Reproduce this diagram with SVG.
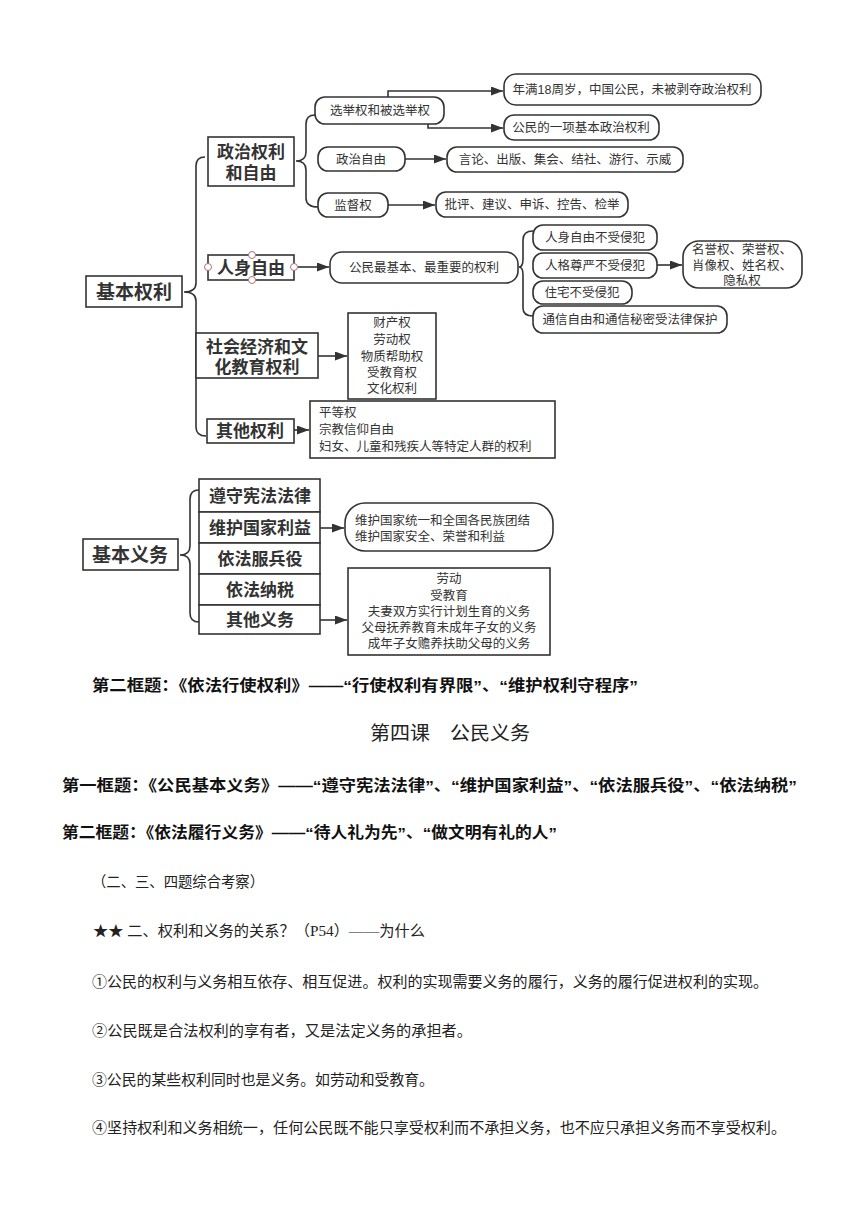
<svg xmlns="http://www.w3.org/2000/svg" width="860" height="1216" viewBox="0 0 860 1216">
<defs>
<style>
.box{fill:#fff;stroke:#333;stroke-width:1.6}
.t{font-family:"Liberation Sans","Noto Sans CJK SC",sans-serif;fill:#333;text-anchor:middle;dominant-baseline:central}
.l{text-anchor:start}
.big{font-size:17px;font-weight:bold}
.huge{font-size:19px;font-weight:bold}
.sm{font-size:12.5px}
.conn{fill:none;stroke:#333;stroke-width:1.6}
.h{fill:#fff;stroke:#b07070;stroke-width:1}
.hd{font-family:"Liberation Sans","Noto Sans CJK SC",sans-serif;font-size:15.5px;font-weight:bold;fill:#111;dominant-baseline:central}
.bd{font-family:"Liberation Serif","Noto Sans CJK SC",serif;font-size:15px;fill:#222;dominant-baseline:central}
</style>
<marker id="ar" markerWidth="12" markerHeight="9" refX="12" refY="4.5" orient="auto" markerUnits="userSpaceOnUse">
<path d="M0,0 L12,4.5 L0,9 z" fill="#333"/>
</marker>
</defs>
<rect width="860" height="1216" fill="#fff"/>

<g id="connectors">
<path class="conn" d="M205 157 Q196 157 196 166 L196 283 Q196 292 184 292 Q196 292 196 301 L196 427 Q196 436 206 436"/>
<path class="conn" d="M315 115 Q306 115 306 124 L306 152 Q306 161 296 161 Q306 161 306 170 L306 198 Q306 207 318 207"/>
<path class="conn" d="M533 231 Q523 231 523 240 L523 259 Q523 267 519 267 Q523 267 523 275 L523 308 Q523 316 533 316"/>
<path class="conn" d="M199 490 Q190 490 190 499 L190 546 Q190 555 180 555 Q190 555 190 564 L190 613 Q190 622 199 622"/>
<path class="conn" marker-end="url(#ar)" d="M388 97 L388 91 L503 91"/>
<path class="conn" marker-end="url(#ar)" d="M428 124 L428 128 L503 128"/>
<path class="conn" marker-end="url(#ar)" d="M405 159 L446 159"/>
<path class="conn" marker-end="url(#ar)" d="M388 205 L435 205"/>
<path class="conn" marker-end="url(#ar)" d="M298 267 L329 267"/>
<path class="conn" marker-end="url(#ar)" d="M657 265 L682 265"/>
<path class="conn" marker-end="url(#ar)" d="M318 356 L347 356"/>
<path class="conn" marker-end="url(#ar)" d="M294 430 L309 430"/>
<path class="conn" marker-end="url(#ar)" d="M320 528 L344 528"/>
<path class="conn" marker-end="url(#ar)" d="M320 620 L347 620"/>
</g>

<g id="n_jbql"><rect class="box" x="86" y="276" width="96" height="31"/><text class="t huge" x="134" y="292">基本权利</text></g>
<g id="n_zzql"><rect class="box" x="208" y="137" width="86" height="49"/><text class="t big" x="251" y="152">政治权利</text><text class="t big" x="251" y="173">和自由</text></g>
<g id="n_xjq"><rect class="box" x="315" y="97" width="129" height="27" rx="10"/><text class="t sm" x="380" y="111">选举权和被选举权</text></g>
<g id="n_nm18"><rect class="box" x="504" y="74" width="257" height="31" rx="12"/><text class="t sm" x="632" y="90">年满18周岁，中国公民，未被剥夺政治权利</text></g>
<g id="n_gmyx"><rect class="box" x="504" y="115" width="155" height="25" rx="10"/><text class="t sm" x="581" y="128">公民的一项基本政治权利</text></g>
<g id="n_zzzy"><rect class="box" x="318" y="147" width="87" height="24" rx="10"/><text class="t sm" x="361" y="160">政治自由</text></g>
<g id="n_yl"><rect class="box" x="447" y="147" width="236" height="25" rx="10"/><text class="t sm" x="565" y="160">言论、出版、集会、结社、游行、示威</text></g>
<g id="n_jdq"><rect class="box" x="318" y="193" width="70" height="24" rx="10"/><text class="t sm" x="353" y="206">监督权</text></g>
<g id="n_pp"><rect class="box" x="436" y="192" width="192" height="25" rx="10"/><text class="t sm" x="532" y="205">批评、建议、申诉、控告、检举</text></g>
<g id="n_rszy"><rect class="box" x="208" y="255" width="86" height="25"/><text class="t big" x="251" y="268">人身自由</text>
<circle class="h" cx="252" cy="255" r="3.5"/><circle class="h" cx="252" cy="280" r="3.5"/><circle class="h" cx="208" cy="267" r="3.5"/><circle class="h" cx="294" cy="267" r="3.5"/></g>
<g id="n_gmzjb"><rect class="box" x="330" y="252" width="188" height="31" rx="12"/><text class="t sm" x="424" y="268">公民最基本、最重要的权利</text></g>
<g id="n_rs1"><rect class="box" x="533" y="225" width="124" height="25" rx="10"/><text class="t sm" x="595" y="238">人身自由不受侵犯</text></g>
<g id="n_rs2"><rect class="box" x="533" y="253" width="124" height="25" rx="10"/><text class="t sm" x="595" y="266">人格尊严不受侵犯</text></g>
<g id="n_rs3"><rect class="box" x="533" y="281" width="99" height="23" rx="10"/><text class="t sm" x="582" y="293">住宅不受侵犯</text></g>
<g id="n_rs4"><rect class="box" x="533" y="306" width="194" height="27" rx="10"/><text class="t sm" x="630" y="320">通信自由和通信秘密受法律保护</text></g>
<g id="n_my"><rect class="box" x="683" y="241" width="119" height="47" rx="16"/><text class="t sm" x="742" y="250">名誉权、荣誉权、</text><text class="t sm" x="742" y="266">肖像权、姓名权、</text><text class="t sm" x="742" y="281">隐私权</text></g>
<g id="n_shjj"><rect class="box" x="196" y="333" width="122" height="45"/><text class="t big" x="257" y="347">社会经济和文</text><text class="t big" x="257" y="367">化教育权利</text></g>
<g id="n_ccq"><rect class="box" x="348" y="313" width="88" height="86"/><text class="t sm" x="392" y="323">财产权</text><text class="t sm" x="392" y="340">劳动权</text><text class="t sm" x="392" y="357">物质帮助权</text><text class="t sm" x="392" y="373">受教育权</text><text class="t sm" x="392" y="389">文化权利</text></g>
<g id="n_qtql"><rect class="box" x="207" y="419" width="87" height="24"/><text class="t big" x="250" y="431">其他权利</text></g>
<g id="n_qtlist"><rect class="box" x="310" y="401" width="245" height="57"/><text class="t sm l" x="319" y="413">平等权</text><text class="t sm l" x="319" y="430">宗教信仰自由</text><text class="t sm l" x="319" y="447">妇女、儿童和残疾人等特定人群的权利</text></g>

<g id="n_jbyw"><rect class="box" x="83" y="539" width="95" height="31"/><text class="t huge" x="130" y="555">基本义务</text></g>
<g id="n_zs"><rect class="box" x="199" y="479" width="121" height="33"/><text class="t big" x="260" y="496">遵守宪法法律</text></g>
<g id="n_wh"><rect class="box" x="199" y="512" width="121" height="31"/><text class="t big" x="260" y="528">维护国家利益</text></g>
<g id="n_fby"><rect class="box" x="199" y="543" width="121" height="31"/><text class="t big" x="260" y="559">依法服兵役</text></g>
<g id="n_ns"><rect class="box" x="199" y="574" width="121" height="31"/><text class="t big" x="260" y="590">依法纳税</text></g>
<g id="n_qtyw"><rect class="box" x="199" y="605" width="121" height="29"/><text class="t big" x="260" y="620">其他义务</text></g>
<g id="n_whgj"><rect class="box" x="345" y="503" width="208" height="48" rx="20"/><text class="t sm l" x="355" y="521">维护国家统一和全国各民族团结</text><text class="t sm l" x="355" y="537">维护国家安全、荣誉和利益</text></g>
<g id="n_ld"><rect class="box" x="348" y="568" width="202" height="87"/><text class="t sm" x="449" y="579">劳动</text><text class="t sm" x="449" y="596">受教育</text><text class="t sm" x="449" y="612">夫妻双方实行计划生育的义务</text><text class="t sm" x="449" y="628">父母抚养教育未成年子女的义务</text><text class="t sm" x="449" y="644">成年子女赡养扶助父母的义务</text></g>

<g id="text">
<text class="hd" x="92" y="685" textLength="546" lengthAdjust="spacingAndGlyphs">第二框题：《依法行使权利》——“行使权利有界限”、“维护权利守程序”</text>
<text x="370" y="733" font-family="Liberation Sans,Noto Sans CJK SC,sans-serif" font-size="19" fill="#222" dominant-baseline="central" textLength="160" lengthAdjust="spacingAndGlyphs">第四课　公民义务</text>
<text class="hd" x="62" y="785" textLength="735" lengthAdjust="spacingAndGlyphs">第一框题：《公民基本义务》——“遵守宪法法律”、“维护国家利益”、“依法服兵役”、“依法纳税”</text>
<text class="hd" x="62" y="832" textLength="495" lengthAdjust="spacingAndGlyphs">第二框题：《依法履行义务》——“待人礼为先”、“做文明有礼的人”</text>
<text class="bd" x="92" y="882" font-size="14" textLength="172" lengthAdjust="spacingAndGlyphs">（二、三、四题综合考察）</text>
<text class="bd" x="93" y="931" textLength="332" lengthAdjust="spacingAndGlyphs">★★ 二、权利和义务的关系？（P54）——为什么</text>
<text class="bd" x="92" y="982" textLength="676" lengthAdjust="spacingAndGlyphs">①公民的权利与义务相互依存、相互促进。权利的实现需要义务的履行，义务的履行促进权利的实现。</text>
<text class="bd" x="92" y="1031" textLength="380" lengthAdjust="spacingAndGlyphs">②公民既是合法权利的享有者，又是法定义务的承担者。</text>
<text class="bd" x="92" y="1080" textLength="342" lengthAdjust="spacingAndGlyphs">③公民的某些权利同时也是义务。如劳动和受教育。</text>
<text class="bd" x="92" y="1128" textLength="694" lengthAdjust="spacingAndGlyphs">④坚持权利和义务相统一，任何公民既不能只享受权利而不承担义务，也不应只承担义务而不享受权利。</text>
</g>
</svg>
